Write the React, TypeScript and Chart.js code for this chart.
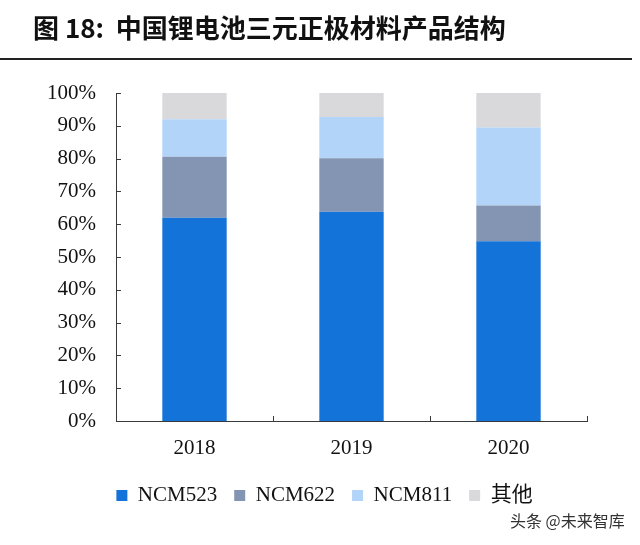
import React, { useEffect, useRef } from "react";
import { Chart, registerables } from "chart.js";

Chart.register(...registerables);

const categories = ["2018", "2019", "2020"];
const seriesNames = ["NCM523", "NCM622", "NCM811", "其他"];
const ncm523 = [62.0, 63.8, 54.8];
const ncm622 = [18.6, 16.3, 10.9];
const ncm811 = [11.4, 12.6, 23.8];
const others = [8.0, 7.3, 10.5];
const seriesColors = ["#1473D8", "#8395B3", "#B3D4F9", "#D9D9DC"];
const yTicks = [0, 10, 20, 30, 40, 50, 60, 70, 80, 90, 100];

const AXIS_COLOR = "#3a3a3a";
const SERIF = "'Times New Roman', 'Liberation Serif', Tinos, 'DejaVu Serif', 'Noto Sans CJK SC', serif";

const innerTicks = {
  id: "innerTicks",
  afterLayout(chart: any) {
    const l = chart.legend;
    if (l) {
      l.left += 31;
      l.right += 31;
    }
  },
  afterDraw(chart: any) {
    const ctx = chart.ctx;
    const x = chart.scales.x;
    const y = chart.scales.y;
    const area = chart.chartArea;
    ctx.save();
    ctx.strokeStyle = AXIS_COLOR;
    ctx.lineWidth = 1;
    ctx.beginPath();
    yTicks.forEach((v) => {
      const py = Math.round(y.getPixelForValue(v)) + 0.5;
      ctx.moveTo(area.left, py);
      ctx.lineTo(area.left + 5, py);
    });
    const n = categories.length;
    for (let i = 0; i <= n; i++) {
      let px: number;
      if (i === 0) px = area.left;
      else if (i === n) px = area.right;
      else px = (x.getPixelForValue(i - 1) + x.getPixelForValue(i)) / 2;
      px = Math.round(px) + 0.5;
      ctx.moveTo(px, area.bottom);
      ctx.lineTo(px, area.bottom - 5);
    }
    ctx.stroke();
    ctx.restore();
  },
};

export default function App() {
  const ref = useRef<HTMLCanvasElement>(null);

  useEffect(() => {
    if (!ref.current) return;
    const values = [ncm523, ncm622, ncm811, others];
    const chart = new Chart(ref.current, {
      type: "bar",
      data: {
        labels: categories,
        datasets: seriesNames.map((name, i) => ({
          label: name,
          data: values[i],
          backgroundColor: seriesColors[i],
          borderWidth: 0,
          barPercentage: 0.82,
          categoryPercentage: 0.5,
        })),
      },
      options: {
        animation: false,
        responsive: false,
        maintainAspectRatio: false,
        layout: { padding: { top: 93, left: 0, right: 53, bottom: 29 } },
        plugins: {
          tooltip: { enabled: false },
          legend: {
            position: "bottom",
            labels: {
              color: "#111",
              font: { family: SERIF, size: 21 },
              boxWidth: 11,
              boxHeight: 11,
              padding: 17,
            },
          },
        },
        scales: {
          x: {
            stacked: true,
            grid: { display: false, drawTicks: false },
            border: { display: true, color: AXIS_COLOR, width: 1 },
            ticks: {
              color: "#111",
              font: { family: SERIF, size: 21 },
              padding: 15,
            },
            afterFit: (s: any) => {
              s.height = 47;
            },
          },
          y: {
            stacked: true,
            min: 0,
            max: 100,
            grid: { display: false, drawTicks: false },
            border: { display: true, color: AXIS_COLOR, width: 1 },
            ticks: {
              stepSize: 10,
              color: "#111",
              font: { family: SERIF, size: 21 },
              padding: 20,
              callback: (v: any) => `${v}%`,
            },
            afterFit: (s: any) => {
              s.width = 116;
            },
          },
        },
      },
      plugins: [innerTicks],
    });
    return () => chart.destroy();
  }, []);

  return (
    <div style={{ position: "absolute", left: 0, top: 0, width: 640, height: 545, background: "#fff", overflow: "hidden" }}>
      <canvas ref={ref} width={640} height={545} style={{ position: "absolute", left: 0, top: 0, width: 640, height: 545 }} />
      <div
        style={{
          position: "absolute",
          left: 33,
          top: 11,
          fontFamily: "'Noto Sans CJK SC', 'Noto Sans', sans-serif",
          fontWeight: 700,
          fontSize: 26,
          lineHeight: "32px",
          color: "#111",
          whiteSpace: "nowrap",
        }}
      >
        图 18:&nbsp;&nbsp;中国锂电池三元正极材料产品结构
      </div>
      <div style={{ position: "absolute", left: 0, top: 58, width: 632, height: 2, background: "#222" }} />
      <div
        style={{
          position: "absolute",
          left: 510,
          top: 510,
          fontFamily: "'Noto Sans CJK SC', sans-serif",
          fontSize: 16,
          lineHeight: "20px",
          color: "#333",
          whiteSpace: "nowrap",
        }}
      >
        头条 @未来智库
      </div>
    </div>
  );
}
